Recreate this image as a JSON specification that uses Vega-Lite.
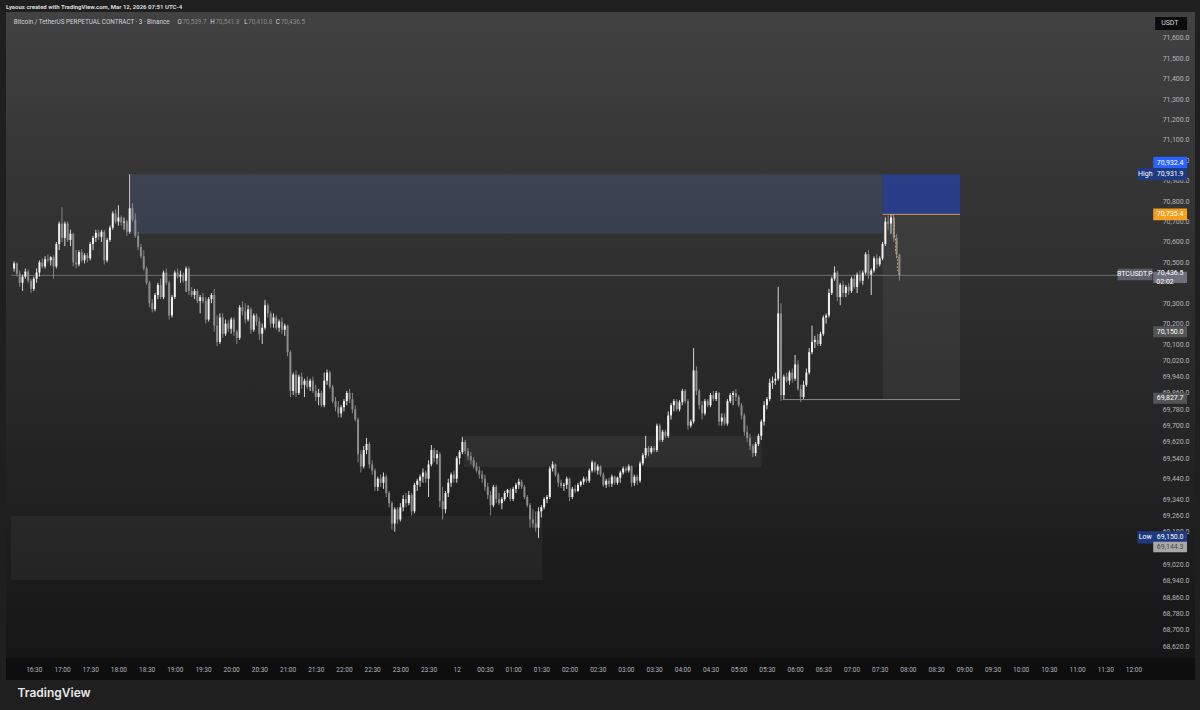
{
"$schema": "https://vega.github.io/schema/vega-lite/v6.json",
"width": 1189, "height": 668,
"autosize": {"type": "none"},
"padding": {"left": 6, "top": 12, "right": 5, "bottom": 30},
"background": "#1f1f1f",
"config": {"axis": {"labelOverlap": false, "labelFlush": false}},
"view": {"stroke": null, "fill": {"gradient": "linear", "x1": 0, "y1": 0, "x2": 0, "y2": 1, "stops": [
  {"offset": 0, "color": "#424242"}, {"offset": 0.22, "color": "#363636"}, {"offset": 0.52, "color": "#2a2a2a"},
  {"offset": 0.8, "color": "#1d1d1d"}, {"offset": 0.966, "color": "#161616"}, {"offset": 0.967, "color": "#0e0e0e"}, {"offset": 1, "color": "#0e0e0e"}]}},
"title": {"text": "Lyaous created with TradingView.com, Mar 12, 2026 07:51 UTC-4", "anchor": "start", "frame": "group", "offset": -4, "baseline": "bottom", "fontSize": 6, "fontWeight": "bold", "color": "#dcdcdc", "font": "Roboto"},
"datasets": {
"zones": [
 {"x1": 44.5, "x2": 311, "y1": 70642, "y2": 70932, "z": "supply"},
 {"x1": 311, "x2": 338.5, "y1": 70735.4, "y2": 70932.4, "z": "stop"},
 {"x1": 311, "x2": 338.5, "y1": 69827.7, "y2": 70735.4, "z": "target"},
 {"x1": 162.6, "x2": 268.1, "y1": 69497, "y2": 69649, "z": "demand"},
 {"x1": 1.9, "x2": 190.4, "y1": 68944, "y2": 69257, "z": "base"}
],
"lines": [
 {"x1": 1.9, "x2": 394.4, "y": 70436.5, "k": "last"},
 {"x1": 311, "x2": 338.5, "y": 70735.4, "k": "entry"},
 {"x1": 275.5, "x2": 338.5, "y": 69827.7, "k": "tp"}
],
"path": [
 {"x": 314.7, "y": 70735}, {"x": 315.3, "y": 70690}, {"x": 315.0, "y": 70650}, {"x": 315.8, "y": 70600},
 {"x": 315.6, "y": 70560}, {"x": 316.4, "y": 70510}, {"x": 316.2, "y": 70470}, {"x": 317.0, "y": 70440}
],
"badges": [
 {"k": "usdt", "x1": 407.7, "x2": 419, "y": 71671},
 {"k": "blue", "x1": 407, "x2": 419, "y": 70987},
 {"k": "navy", "x1": 401.4, "x2": 419, "y": 70932},
 {"k": "orange", "x1": 407, "x2": 419, "y": 70735.4},
 {"k": "sym", "x1": 394.4, "x2": 406.7, "y": 70441},
 {"k": "last", "x1": 407, "x2": 419, "y": 70426},
 {"k": "grey", "x1": 407, "x2": 419, "y": 70160},
 {"k": "grey", "x1": 407, "x2": 419, "y": 69834},
 {"k": "navy", "x1": 401.4, "x2": 419, "y": 69152},
 {"k": "light", "x1": 407, "x2": 419, "y": 69105}
],
"badgeText": [
 {"t": "USDT", "x": 412.9, "y": 71671, "k": "usdt"},
 {"t": "70,932.4", "x": 413, "y": 70987, "k": "blue"},
 {"t": "High", "x": 404.2, "y": 70932, "k": "navy"},
 {"t": "70,931.9", "x": 413, "y": 70932, "k": "navy"},
 {"t": "70,735.4", "x": 413, "y": 70735.4, "k": "orange"},
 {"t": "BTCUSDT.P", "x": 400.5, "y": 70441, "k": "sym"},
 {"t": "70,436.5", "x": 413, "y": 70449, "k": "last"},
 {"t": "02:02", "x": 411.2, "y": 70404, "k": "last"},
 {"t": "70,150.0", "x": 413, "y": 70160, "k": "grey"},
 {"t": "69,827.7", "x": 413, "y": 69834, "k": "grey"},
 {"t": "Low", "x": 404.2, "y": 69152, "k": "navy"},
 {"t": "69,150.0", "x": 413, "y": 69152, "k": "navy"},
 {"t": "69,144.3", "x": 413, "y": 69105, "k": "light"}
],
"legendText": [
 {"t": "Bitcoin / TetherUS PERPETUAL CONTRACT · 3 · Binance", "x": 2.9, "r": "name"},
 {"t": "O", "x": 61.0, "r": "key"}, {"t": "70,539.7", "x": 62.7, "r": "val"},
 {"t": "H", "x": 72.6, "r": "key"}, {"t": "70,541.8", "x": 74.4, "r": "val"},
 {"t": "L", "x": 84.6, "r": "key"}, {"t": "70,410.8", "x": 86.0, "r": "val"},
 {"t": "C", "x": 95.8, "r": "key"}, {"t": "70,436.5", "x": 97.6, "r": "val"}
],
"candles": [
{"i":3,"o":70470,"h":70505,"l":70455,"c":70495},
{"i":4,"o":70495,"h":70500,"l":70430,"c":70445},
{"i":5,"o":70445,"h":70460,"l":70380,"c":70400},
{"i":6,"o":70400,"h":70440,"l":70360,"c":70430},
{"i":7,"o":70430,"h":70470,"l":70420,"c":70455},
{"i":8,"o":70455,"h":70465,"l":70400,"c":70410},
{"i":9,"o":70410,"h":70420,"l":70350,"c":70370},
{"i":10,"o":70370,"h":70430,"l":70360,"c":70420},
{"i":11,"o":70420,"h":70470,"l":70400,"c":70450},
{"i":12,"o":70450,"h":70510,"l":70430,"c":70500},
{"i":13,"o":70500,"h":70520,"l":70470,"c":70480},
{"i":14,"o":70480,"h":70530,"l":70470,"c":70515},
{"i":15,"o":70515,"h":70540,"l":70500,"c":70510},
{"i":16,"o":70510,"h":70530,"l":70485,"c":70525},
{"i":17,"o":70525,"h":70535,"l":70420,"c":70480},
{"i":18,"o":70480,"h":70600,"l":70470,"c":70590},
{"i":19,"o":70590,"h":70700,"l":70560,"c":70690},
{"i":20,"o":70690,"h":70770,"l":70600,"c":70620},
{"i":21,"o":70620,"h":70700,"l":70580,"c":70690},
{"i":22,"o":70690,"h":70700,"l":70600,"c":70610},
{"i":23,"o":70610,"h":70660,"l":70580,"c":70640},
{"i":24,"o":70640,"h":70645,"l":70480,"c":70500},
{"i":25,"o":70500,"h":70560,"l":70470,"c":70490},
{"i":26,"o":70490,"h":70560,"l":70480,"c":70550},
{"i":27,"o":70550,"h":70565,"l":70500,"c":70510},
{"i":28,"o":70510,"h":70545,"l":70495,"c":70535},
{"i":29,"o":70535,"h":70545,"l":70500,"c":70520},
{"i":30,"o":70520,"h":70600,"l":70510,"c":70590},
{"i":31,"o":70590,"h":70630,"l":70560,"c":70620},
{"i":32,"o":70620,"h":70660,"l":70600,"c":70645},
{"i":33,"o":70645,"h":70660,"l":70610,"c":70625},
{"i":34,"o":70625,"h":70660,"l":70600,"c":70650},
{"i":35,"o":70650,"h":70660,"l":70490,"c":70510},
{"i":36,"o":70510,"h":70620,"l":70500,"c":70610},
{"i":37,"o":70610,"h":70680,"l":70600,"c":70670},
{"i":38,"o":70670,"h":70750,"l":70660,"c":70740},
{"i":39,"o":70740,"h":70760,"l":70690,"c":70700},
{"i":40,"o":70700,"h":70780,"l":70680,"c":70720},
{"i":41,"o":70720,"h":70730,"l":70680,"c":70695},
{"i":42,"o":70695,"h":70720,"l":70660,"c":70700},
{"i":43,"o":70700,"h":70710,"l":70630,"c":70650},
{"i":44,"o":70650,"h":70931.9,"l":70640,"c":70765},
{"i":45,"o":70765,"h":70790,"l":70700,"c":70710},
{"i":46,"o":70710,"h":70740,"l":70620,"c":70630},
{"i":47,"o":70630,"h":70650,"l":70560,"c":70575},
{"i":48,"o":70575,"h":70590,"l":70520,"c":70530},
{"i":49,"o":70530,"h":70560,"l":70460,"c":70470},
{"i":50,"o":70470,"h":70480,"l":70390,"c":70400},
{"i":51,"o":70400,"h":70410,"l":70280,"c":70300},
{"i":52,"o":70300,"h":70320,"l":70255,"c":70270},
{"i":53,"o":70270,"h":70350,"l":70260,"c":70340},
{"i":54,"o":70340,"h":70400,"l":70320,"c":70390},
{"i":55,"o":70390,"h":70420,"l":70320,"c":70330},
{"i":56,"o":70330,"h":70460,"l":70320,"c":70450},
{"i":57,"o":70450,"h":70470,"l":70390,"c":70400},
{"i":58,"o":70400,"h":70410,"l":70220,"c":70240},
{"i":59,"o":70240,"h":70340,"l":70230,"c":70330},
{"i":60,"o":70330,"h":70460,"l":70320,"c":70450},
{"i":61,"o":70450,"h":70470,"l":70420,"c":70430},
{"i":62,"o":70430,"h":70460,"l":70400,"c":70440},
{"i":63,"o":70440,"h":70450,"l":70400,"c":70410},
{"i":64,"o":70410,"h":70480,"l":70355,"c":70470},
{"i":65,"o":70470,"h":70480,"l":70340,"c":70360},
{"i":66,"o":70360,"h":70380,"l":70330,"c":70340},
{"i":67,"o":70340,"h":70370,"l":70320,"c":70360},
{"i":68,"o":70360,"h":70370,"l":70300,"c":70310},
{"i":69,"o":70310,"h":70340,"l":70250,"c":70330},
{"i":70,"o":70330,"h":70350,"l":70300,"c":70310},
{"i":71,"o":70310,"h":70330,"l":70200,"c":70220},
{"i":72,"o":70220,"h":70330,"l":70210,"c":70320},
{"i":73,"o":70320,"h":70350,"l":70300,"c":70340},
{"i":74,"o":70340,"h":70370,"l":70160,"c":70190},
{"i":75,"o":70190,"h":70240,"l":70090,"c":70110},
{"i":76,"o":70110,"h":70250,"l":70100,"c":70230},
{"i":77,"o":70230,"h":70250,"l":70130,"c":70150},
{"i":78,"o":70150,"h":70220,"l":70140,"c":70200},
{"i":79,"o":70200,"h":70215,"l":70160,"c":70175},
{"i":80,"o":70175,"h":70230,"l":70150,"c":70220},
{"i":81,"o":70220,"h":70230,"l":70140,"c":70160},
{"i":82,"o":70160,"h":70170,"l":70100,"c":70130},
{"i":83,"o":70130,"h":70290,"l":70120,"c":70280},
{"i":84,"o":70280,"h":70310,"l":70240,"c":70260},
{"i":85,"o":70260,"h":70300,"l":70200,"c":70220},
{"i":86,"o":70220,"h":70290,"l":70210,"c":70270},
{"i":87,"o":70270,"h":70280,"l":70150,"c":70170},
{"i":88,"o":70170,"h":70250,"l":70160,"c":70240},
{"i":89,"o":70240,"h":70250,"l":70190,"c":70210},
{"i":90,"o":70210,"h":70230,"l":70120,"c":70150},
{"i":91,"o":70150,"h":70200,"l":70100,"c":70180},
{"i":92,"o":70180,"h":70316,"l":70170,"c":70290},
{"i":93,"o":70290,"h":70300,"l":70230,"c":70250},
{"i":94,"o":70250,"h":70260,"l":70180,"c":70200},
{"i":95,"o":70200,"h":70250,"l":70180,"c":70230},
{"i":96,"o":70230,"h":70240,"l":70170,"c":70180},
{"i":97,"o":70180,"h":70220,"l":70160,"c":70210},
{"i":98,"o":70210,"h":70230,"l":70150,"c":70170},
{"i":99,"o":70170,"h":70200,"l":70140,"c":70190},
{"i":100,"o":70190,"h":70195,"l":70040,"c":70060},
{"i":101,"o":70060,"h":70070,"l":69840,"c":69870},
{"i":102,"o":69870,"h":69960,"l":69850,"c":69950},
{"i":103,"o":69950,"h":69970,"l":69840,"c":69860},
{"i":104,"o":69860,"h":69950,"l":69850,"c":69940},
{"i":105,"o":69940,"h":69960,"l":69880,"c":69900},
{"i":106,"o":69900,"h":69930,"l":69840,"c":69920},
{"i":107,"o":69920,"h":69940,"l":69880,"c":69890},
{"i":108,"o":69890,"h":69930,"l":69870,"c":69920},
{"i":109,"o":69920,"h":69940,"l":69860,"c":69870},
{"i":110,"o":69870,"h":69900,"l":69820,"c":69840},
{"i":111,"o":69840,"h":69880,"l":69800,"c":69860},
{"i":112,"o":69860,"h":69870,"l":69790,"c":69800},
{"i":113,"o":69800,"h":69960,"l":69790,"c":69920},
{"i":114,"o":69920,"h":69975,"l":69900,"c":69960},
{"i":115,"o":69960,"h":69970,"l":69880,"c":69890},
{"i":116,"o":69890,"h":69900,"l":69810,"c":69820},
{"i":117,"o":69820,"h":69840,"l":69770,"c":69790},
{"i":118,"o":69790,"h":69820,"l":69740,"c":69760},
{"i":119,"o":69760,"h":69800,"l":69740,"c":69790},
{"i":120,"o":69790,"h":69830,"l":69770,"c":69820},
{"i":121,"o":69820,"h":69870,"l":69800,"c":69860},
{"i":122,"o":69860,"h":69880,"l":69810,"c":69830},
{"i":123,"o":69830,"h":69860,"l":69760,"c":69780},
{"i":124,"o":69780,"h":69800,"l":69720,"c":69730},
{"i":125,"o":69730,"h":69740,"l":69520,"c":69560},
{"i":126,"o":69560,"h":69580,"l":69470,"c":69500},
{"i":127,"o":69500,"h":69600,"l":69490,"c":69580},
{"i":128,"o":69580,"h":69640,"l":69560,"c":69610},
{"i":129,"o":69610,"h":69620,"l":69490,"c":69510},
{"i":130,"o":69510,"h":69530,"l":69460,"c":69480},
{"i":131,"o":69480,"h":69490,"l":69380,"c":69400},
{"i":132,"o":69400,"h":69450,"l":69380,"c":69440},
{"i":133,"o":69440,"h":69460,"l":69400,"c":69420},
{"i":134,"o":69420,"h":69470,"l":69390,"c":69450},
{"i":135,"o":69450,"h":69460,"l":69350,"c":69370},
{"i":136,"o":69370,"h":69380,"l":69300,"c":69320},
{"i":137,"o":69320,"h":69330,"l":69190,"c":69220},
{"i":138,"o":69220,"h":69300,"l":69180,"c":69290},
{"i":139,"o":69290,"h":69300,"l":69220,"c":69240},
{"i":140,"o":69240,"h":69320,"l":69230,"c":69300},
{"i":141,"o":69300,"h":69360,"l":69280,"c":69340},
{"i":142,"o":69340,"h":69370,"l":69300,"c":69320},
{"i":143,"o":69320,"h":69380,"l":69310,"c":69360},
{"i":144,"o":69360,"h":69370,"l":69260,"c":69280},
{"i":145,"o":69280,"h":69420,"l":69270,"c":69410},
{"i":146,"o":69410,"h":69440,"l":69380,"c":69430},
{"i":147,"o":69430,"h":69460,"l":69400,"c":69450},
{"i":148,"o":69450,"h":69490,"l":69420,"c":69470},
{"i":149,"o":69470,"h":69480,"l":69420,"c":69440},
{"i":150,"o":69440,"h":69530,"l":69350,"c":69510},
{"i":151,"o":69510,"h":69605,"l":69500,"c":69580},
{"i":152,"o":69580,"h":69590,"l":69520,"c":69540},
{"i":153,"o":69540,"h":69580,"l":69510,"c":69560},
{"i":154,"o":69560,"h":69570,"l":69300,"c":69330},
{"i":155,"o":69330,"h":69400,"l":69240,"c":69290},
{"i":156,"o":69290,"h":69380,"l":69270,"c":69370},
{"i":157,"o":69370,"h":69440,"l":69350,"c":69420},
{"i":158,"o":69420,"h":69470,"l":69400,"c":69460},
{"i":159,"o":69460,"h":69480,"l":69420,"c":69440},
{"i":160,"o":69440,"h":69550,"l":69420,"c":69540},
{"i":161,"o":69540,"h":69580,"l":69510,"c":69570},
{"i":162,"o":69570,"h":69645,"l":69560,"c":69620},
{"i":163,"o":69620,"h":69630,"l":69560,"c":69575},
{"i":164,"o":69575,"h":69590,"l":69530,"c":69550},
{"i":165,"o":69550,"h":69570,"l":69510,"c":69530},
{"i":166,"o":69530,"h":69545,"l":69490,"c":69500},
{"i":167,"o":69500,"h":69520,"l":69470,"c":69480},
{"i":168,"o":69480,"h":69500,"l":69440,"c":69460},
{"i":169,"o":69460,"h":69480,"l":69420,"c":69440},
{"i":170,"o":69440,"h":69460,"l":69380,"c":69400},
{"i":171,"o":69400,"h":69420,"l":69340,"c":69360},
{"i":172,"o":69360,"h":69380,"l":69260,"c":69310},
{"i":173,"o":69310,"h":69410,"l":69300,"c":69400},
{"i":174,"o":69400,"h":69410,"l":69320,"c":69340},
{"i":175,"o":69340,"h":69370,"l":69310,"c":69320},
{"i":176,"o":69320,"h":69350,"l":69290,"c":69340},
{"i":177,"o":69340,"h":69380,"l":69330,"c":69370},
{"i":178,"o":69370,"h":69390,"l":69350,"c":69385},
{"i":179,"o":69385,"h":69395,"l":69330,"c":69340},
{"i":180,"o":69340,"h":69400,"l":69330,"c":69390},
{"i":181,"o":69390,"h":69420,"l":69370,"c":69410},
{"i":182,"o":69410,"h":69440,"l":69390,"c":69425},
{"i":183,"o":69425,"h":69435,"l":69390,"c":69400},
{"i":184,"o":69400,"h":69410,"l":69340,"c":69350},
{"i":185,"o":69350,"h":69360,"l":69300,"c":69310},
{"i":186,"o":69310,"h":69320,"l":69200,"c":69240},
{"i":187,"o":69240,"h":69290,"l":69200,"c":69220},
{"i":188,"o":69220,"h":69280,"l":69180,"c":69200},
{"i":189,"o":69200,"h":69300,"l":69150,"c":69280},
{"i":190,"o":69280,"h":69310,"l":69250,"c":69300},
{"i":191,"o":69300,"h":69350,"l":69290,"c":69340},
{"i":192,"o":69340,"h":69360,"l":69320,"c":69350},
{"i":193,"o":69350,"h":69500,"l":69340,"c":69490},
{"i":194,"o":69490,"h":69525,"l":69475,"c":69510},
{"i":195,"o":69510,"h":69515,"l":69450,"c":69460},
{"i":196,"o":69460,"h":69470,"l":69400,"c":69420},
{"i":197,"o":69420,"h":69435,"l":69395,"c":69405},
{"i":198,"o":69405,"h":69420,"l":69380,"c":69410},
{"i":199,"o":69410,"h":69450,"l":69390,"c":69440},
{"i":200,"o":69440,"h":69445,"l":69330,"c":69350},
{"i":201,"o":69350,"h":69400,"l":69340,"c":69390},
{"i":202,"o":69390,"h":69410,"l":69370,"c":69380},
{"i":203,"o":69380,"h":69420,"l":69375,"c":69410},
{"i":204,"o":69410,"h":69430,"l":69400,"c":69425},
{"i":205,"o":69425,"h":69450,"l":69410,"c":69440},
{"i":206,"o":69440,"h":69450,"l":69420,"c":69430},
{"i":207,"o":69430,"h":69490,"l":69420,"c":69480},
{"i":208,"o":69480,"h":69530,"l":69470,"c":69520},
{"i":209,"o":69520,"h":69525,"l":69470,"c":69480},
{"i":210,"o":69480,"h":69510,"l":69460,"c":69500},
{"i":211,"o":69500,"h":69505,"l":69450,"c":69460},
{"i":212,"o":69460,"h":69470,"l":69400,"c":69410},
{"i":213,"o":69410,"h":69440,"l":69395,"c":69430},
{"i":214,"o":69430,"h":69445,"l":69400,"c":69415},
{"i":215,"o":69415,"h":69460,"l":69400,"c":69450},
{"i":216,"o":69450,"h":69455,"l":69410,"c":69420},
{"i":217,"o":69420,"h":69450,"l":69410,"c":69445},
{"i":218,"o":69445,"h":69480,"l":69420,"c":69470},
{"i":219,"o":69470,"h":69500,"l":69460,"c":69490},
{"i":220,"o":69490,"h":69500,"l":69470,"c":69480},
{"i":221,"o":69480,"h":69510,"l":69470,"c":69500},
{"i":222,"o":69500,"h":69505,"l":69400,"c":69420},
{"i":223,"o":69420,"h":69460,"l":69405,"c":69450},
{"i":224,"o":69450,"h":69460,"l":69410,"c":69430},
{"i":225,"o":69430,"h":69525,"l":69420,"c":69515},
{"i":226,"o":69515,"h":69565,"l":69505,"c":69555},
{"i":227,"o":69555,"h":69650,"l":69540,"c":69590},
{"i":228,"o":69590,"h":69600,"l":69550,"c":69570},
{"i":229,"o":69570,"h":69600,"l":69560,"c":69590},
{"i":230,"o":69590,"h":69600,"l":69570,"c":69580},
{"i":231,"o":69580,"h":69710,"l":69570,"c":69700},
{"i":232,"o":69700,"h":69710,"l":69620,"c":69630},
{"i":233,"o":69630,"h":69680,"l":69620,"c":69670},
{"i":234,"o":69670,"h":69680,"l":69640,"c":69650},
{"i":235,"o":69650,"h":69770,"l":69640,"c":69750},
{"i":236,"o":69750,"h":69810,"l":69730,"c":69800},
{"i":237,"o":69800,"h":69830,"l":69770,"c":69820},
{"i":238,"o":69820,"h":69830,"l":69770,"c":69780},
{"i":239,"o":69780,"h":69825,"l":69770,"c":69815},
{"i":240,"o":69815,"h":69880,"l":69800,"c":69870},
{"i":241,"o":69870,"h":69880,"l":69810,"c":69820},
{"i":242,"o":69820,"h":69830,"l":69680,"c":69700},
{"i":243,"o":69700,"h":69730,"l":69690,"c":69720},
{"i":244,"o":69720,"h":70080,"l":69710,"c":69970},
{"i":245,"o":69970,"h":69990,"l":69850,"c":69870},
{"i":246,"o":69870,"h":69880,"l":69780,"c":69800},
{"i":247,"o":69800,"h":69820,"l":69730,"c":69760},
{"i":248,"o":69760,"h":69830,"l":69750,"c":69820},
{"i":249,"o":69820,"h":69830,"l":69790,"c":69800},
{"i":250,"o":69800,"h":69860,"l":69790,"c":69850},
{"i":251,"o":69850,"h":69870,"l":69820,"c":69830},
{"i":252,"o":69830,"h":69870,"l":69820,"c":69860},
{"i":253,"o":69860,"h":69865,"l":69700,"c":69720},
{"i":254,"o":69720,"h":69760,"l":69700,"c":69740},
{"i":255,"o":69740,"h":69760,"l":69700,"c":69710},
{"i":256,"o":69710,"h":69830,"l":69700,"c":69820},
{"i":257,"o":69820,"h":69860,"l":69810,"c":69850},
{"i":258,"o":69850,"h":69870,"l":69800,"c":69860},
{"i":259,"o":69860,"h":69880,"l":69820,"c":69840},
{"i":260,"o":69840,"h":69850,"l":69790,"c":69800},
{"i":261,"o":69800,"h":69810,"l":69730,"c":69750},
{"i":262,"o":69750,"h":69760,"l":69650,"c":69670},
{"i":263,"o":69670,"h":69700,"l":69620,"c":69640},
{"i":264,"o":69640,"h":69660,"l":69580,"c":69600},
{"i":265,"o":69600,"h":69610,"l":69546,"c":69565},
{"i":266,"o":69565,"h":69620,"l":69550,"c":69610},
{"i":267,"o":69610,"h":69660,"l":69600,"c":69650},
{"i":268,"o":69650,"h":69730,"l":69630,"c":69720},
{"i":269,"o":69720,"h":69820,"l":69700,"c":69800},
{"i":270,"o":69800,"h":69840,"l":69780,"c":69830},
{"i":271,"o":69830,"h":69930,"l":69820,"c":69910},
{"i":272,"o":69910,"h":69940,"l":69880,"c":69920},
{"i":273,"o":69920,"h":69960,"l":69900,"c":69930},
{"i":274,"o":69930,"h":70380,"l":69920,"c":70250},
{"i":275,"o":70250,"h":70300,"l":69820,"c":69850},
{"i":276,"o":69850,"h":69950,"l":69830,"c":69940},
{"i":277,"o":69940,"h":69960,"l":69910,"c":69920},
{"i":278,"o":69920,"h":69970,"l":69900,"c":69960},
{"i":279,"o":69960,"h":69980,"l":69910,"c":69930},
{"i":280,"o":69930,"h":70046,"l":69920,"c":70000},
{"i":281,"o":70000,"h":70020,"l":69870,"c":69880},
{"i":282,"o":69880,"h":69900,"l":69816,"c":69840},
{"i":283,"o":69840,"h":69920,"l":69830,"c":69900},
{"i":284,"o":69900,"h":69980,"l":69890,"c":69960},
{"i":285,"o":69960,"h":70080,"l":69950,"c":70060},
{"i":286,"o":70060,"h":70190,"l":70050,"c":70110},
{"i":287,"o":70110,"h":70140,"l":70080,"c":70120},
{"i":288,"o":70120,"h":70150,"l":70090,"c":70100},
{"i":289,"o":70100,"h":70160,"l":70090,"c":70150},
{"i":290,"o":70150,"h":70240,"l":70140,"c":70230},
{"i":291,"o":70230,"h":70250,"l":70200,"c":70240},
{"i":292,"o":70240,"h":70370,"l":70230,"c":70350},
{"i":293,"o":70350,"h":70430,"l":70340,"c":70420},
{"i":294,"o":70420,"h":70480,"l":70410,"c":70450},
{"i":295,"o":70450,"h":70460,"l":70310,"c":70330},
{"i":296,"o":70330,"h":70400,"l":70290,"c":70390},
{"i":297,"o":70390,"h":70410,"l":70330,"c":70350},
{"i":298,"o":70350,"h":70390,"l":70330,"c":70380},
{"i":299,"o":70380,"h":70400,"l":70340,"c":70360},
{"i":300,"o":70360,"h":70430,"l":70350,"c":70420},
{"i":301,"o":70420,"h":70440,"l":70370,"c":70380},
{"i":302,"o":70380,"h":70450,"l":70350,"c":70440},
{"i":303,"o":70440,"h":70460,"l":70400,"c":70410},
{"i":304,"o":70410,"h":70460,"l":70390,"c":70450},
{"i":305,"o":70450,"h":70550,"l":70440,"c":70540},
{"i":306,"o":70540,"h":70560,"l":70420,"c":70440},
{"i":307,"o":70440,"h":70470,"l":70340,"c":70460},
{"i":308,"o":70460,"h":70530,"l":70450,"c":70520},
{"i":309,"o":70520,"h":70540,"l":70470,"c":70490},
{"i":310,"o":70490,"h":70530,"l":70480,"c":70520},
{"i":311,"o":70520,"h":70600,"l":70510,"c":70590},
{"i":312,"o":70590,"h":70720,"l":70580,"c":70700},
{"i":313,"o":70700,"h":70730,"l":70660,"c":70690},
{"i":314,"o":70690,"h":70735.4,"l":70640,"c":70720},
{"i":315,"o":70720,"h":70730,"l":70600,"c":70620},
{"i":316,"o":70620,"h":70640,"l":70520,"c":70540},
{"i":317,"o":70539.7,"h":70541.8,"l":70410.8,"c":70436.5}
]
},
"resolve": {"scale": {"color": "independent", "fill": "independent", "stroke": "independent", "strokeWidth": "independent"}},
"layer": [
 {
  "data": {"name": "zones"},
  "mark": {"type": "rect"},
  "encoding": {
   "x": {"field": "x1", "type": "quantitative", "scale": {"domain": [1.913, 420.05], "nice": false, "zero": false},
    "axis": {"orient": "bottom", "tickCount": 200, "values": [10,20,30,40,50,60,70,80,90,100,110,120,130,140,150,160,170,180,190,200,210,220,230,240,250,260,270,280,290,300,310,320,330,340,350,360,370,380,390,400],
     "labelExpr": "datum.value == 160 ? '12' : timeFormat(datetime(2026, 2, 11, 16, datum.value * 3), '%H:%M')",
     "labelPadding": -11, "labelBaseline": "middle", "labelFontSize": 6.5, "labelColor": "#b2b5be", "labelFont": "Roboto",
     "domain": false, "ticks": false, "grid": false, "labelOverlap": false, "labelFlush": false,
     "title": "TradingView", "titleX": 11, "titleY": 12, "titleAlign": "left", "titleBaseline": "middle",
     "titleFontSize": 12, "titleFontWeight": 600, "titleColor": "#e6e6e6", "titleFont": "Inter", "zindex": 1}},
   "x2": {"field": "x2"},
   "y": {"field": "y1", "type": "quantitative", "scale": {"domain": [68453.4, 71727], "nice": false, "zero": false},
    "axis": {"orient": "right", "tickCount": 200, "values": [71600,71500,71400,71300,71200,71100,71000,70900,70800,70700,70600,70500,70300,70200,70100,70020,69940,69860,69780,69700,69620,69540,69440,69340,69260,69180,69020,68940,68860,68780,68700,68620],
     "format": ",.1f", "labelAlign": "right", "labelPadding": -6, "labelBaseline": "middle", "labelFontSize": 7, "labelColor": "#b2b5be", "labelFont": "Roboto",
     "domain": false, "ticks": false, "grid": false, "labelOverlap": false, "labelFlush": false, "title": null, "zindex": 0}},
   "y2": {"field": "y2"},
   "fill": {"field": "z", "type": "nominal", "legend": null,
    "scale": {"domain": ["supply", "stop", "target", "demand", "base"],
     "range": ["rgba(95,125,215,0.19)", "rgba(40,65,150,0.85)", "rgba(255,255,255,0.055)", "rgba(255,255,255,0.05)", "rgba(255,255,255,0.045)"]}}
  }
 },
 {
  "data": {"name": "lines"},
  "mark": {"type": "rule", "strokeWidth": 1},
  "encoding": {
   "x": {"field": "x1", "type": "quantitative"},
   "x2": {"field": "x2"},
   "y": {"field": "y", "type": "quantitative"},
   "stroke": {"field": "k", "type": "nominal", "legend": null, "scale": {"domain": ["last", "entry", "tp"], "range": ["#6e6e6e", "#d9965b", "#8a8a8a"]}}
  }
 },
 {
  "data": {"name": "candles"},
  "mark": {"type": "rule", "strokeWidth": 1},
  "encoding": {
   "x": {"field": "i", "type": "quantitative"},
   "y": {"field": "l", "type": "quantitative"},
   "y2": {"field": "h"},
   "color": {"condition": {"test": "datum.c >= datum.o", "value": "#d6d6d6"}, "value": "#858585"}
  }
 },
 {
  "data": {"name": "candles"},
  "mark": {"type": "bar", "size": 2},
  "encoding": {
   "x": {"field": "i", "type": "quantitative"},
   "y": {"field": "o", "type": "quantitative"},
   "y2": {"field": "c"},
   "color": {"condition": {"test": "datum.c >= datum.o", "value": "#f2f2f2"}, "value": "#8c8c8c"}
  }
 },
 {
  "data": {"name": "path"},
  "mark": {"type": "line", "strokeWidth": 1, "strokeDash": [2, 1.5], "color": "#d9a26b"},
  "encoding": {
   "x": {"field": "x", "type": "quantitative"},
   "y": {"field": "y", "type": "quantitative"},
   "order": {"field": "y", "sort": "descending"}
  }
 },
 {
  "data": {"name": "badges"},
  "mark": {"type": "rule", "strokeCap": "butt"},
  "encoding": {
   "x": {"field": "x1", "type": "quantitative"},
   "x2": {"field": "x2"},
   "y": {"field": "y", "type": "quantitative"},
   "stroke": {"field": "k", "type": "nominal", "legend": null,
    "scale": {"domain": ["usdt", "blue", "navy", "orange", "sym", "last", "grey", "light"],
     "range": ["#0c0c0c", "#2962ff", "#1e3a80", "#f2a01e", "#5d606b", "#6e717c", "#555555", "#a8a8a8"]}},
   "strokeWidth": {"field": "k", "type": "nominal", "legend": null,
    "scale": {"domain": ["usdt", "blue", "navy", "orange", "sym", "last", "grey", "light"],
     "range": [13, 10.5, 10.5, 10.5, 10.5, 19, 10.5, 10.5]}}
  }
 },
 {
  "data": {"name": "badgeText"},
  "mark": {"type": "text", "font": "Roboto", "fontSize": 7, "align": "center", "baseline": "middle"},
  "encoding": {
   "x": {"field": "x", "type": "quantitative"},
   "y": {"field": "y", "type": "quantitative"},
   "text": {"field": "t"},
   "color": {"field": "k", "type": "nominal", "legend": null,
    "scale": {"domain": ["usdt", "blue", "navy", "orange", "sym", "last", "grey", "light"],
     "range": ["#d1d4dc", "#ffffff", "#ffffff", "#ffffff", "#ffffff", "#ffffff", "#ffffff", "#4a4a4a"]}}
  }
 },
 {
  "data": {"name": "legendText"},
  "mark": {"type": "text", "font": "Roboto", "fontSize": 6.3, "align": "left", "baseline": "middle"},
  "encoding": {
   "x": {"field": "x", "type": "quantitative"},
   "y": {"datum": 71678, "type": "quantitative"},
   "text": {"field": "t"},
   "color": {"field": "r", "type": "nominal", "legend": null,
    "scale": {"domain": ["name", "key", "val"], "range": ["#d1d4dc", "#d1d4dc", "#8a8a8a"]}}
  }
 }
]
}
